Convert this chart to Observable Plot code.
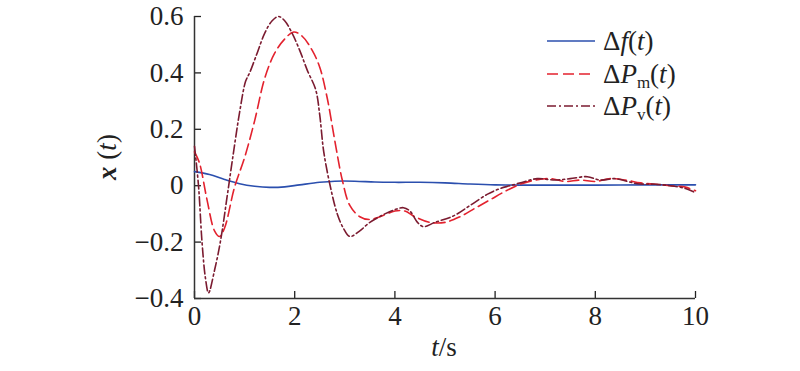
<!DOCTYPE html>
<html><head><meta charset="utf-8">
<script src="https://cdn.jsdelivr.net/npm/d3@7"></script>
<script src="https://cdn.jsdelivr.net/npm/@observablehq/plot@0.6"></script>
</head><body style="margin:0;background:#fff;">
<div id="wrap" style="position:relative;width:800px;height:371px;color:#222;font-family:'Liberation Serif';"></div>
<script>
// Δf(t)
const tF   = [0,0.3,0.6,0.9,1.2,1.5,1.8,2.1,2.5,2.8,3.2,3.6,4.0,4.5,5.0,5.5,6.0,6.5,7,8,9,10];
const fVal = [0.05,0.04,0.022,0.007,-0.002,-0.006,-0.004,0.003,0.012,0.016,0.016,0.013,0.012,0.012,0.01,0.006,0.003,0.002,0.002,0.002,0.003,0.003];
// ΔPm(t)
const tPm  = [0,0.1,0.25,0.4,0.5,0.6,0.8,1.0,1.2,1.4,1.6,1.8,1.98,2.15,2.35,2.5,2.65,2.8,2.95,3.1,3.3,3.5,3.7,4.0,4.2,4.4,4.7,5.0,5.3,5.6,5.9,6.2,6.5,6.8,7.1,7.4,7.7,8.0,8.3,8.6,8.9,9.2,9.5,9.8,10];
const pmVal= [0.12,0.08,-0.05,-0.16,-0.18,-0.15,-0.005,0.1,0.23,0.38,0.47,0.52,0.545,0.53,0.48,0.42,0.31,0.16,0.02,-0.07,-0.11,-0.12,-0.11,-0.09,-0.09,-0.11,-0.13,-0.13,-0.11,-0.08,-0.05,-0.02,0.005,0.02,0.025,0.015,0.02,0.015,0.025,0.02,0.01,0.005,0.0,-0.005,-0.018];
// ΔPv(t)
const tPv  = [0,0.08,0.15,0.22,0.28,0.4,0.52,0.65,0.78,0.9,1.02,1.1,1.25,1.4,1.55,1.68,1.8,1.95,2.1,2.25,2.42,2.5,2.58,2.72,2.85,2.97,3.1,3.3,3.5,3.8,4.0,4.17,4.3,4.45,4.57,4.8,5.17,5.5,5.85,6.1,6.3,6.6,6.84,7.2,7.5,7.84,8.1,8.4,8.84,9.2,9.5,9.8,10];
const pvVal= [0.14,0.0,-0.2,-0.33,-0.38,-0.3,-0.195,-0.04,0.12,0.26,0.37,0.4,0.47,0.54,0.585,0.6,0.585,0.54,0.48,0.41,0.34,0.25,0.12,-0.01,-0.1,-0.15,-0.18,-0.16,-0.13,-0.1,-0.085,-0.078,-0.09,-0.13,-0.145,-0.13,-0.107,-0.07,-0.03,-0.01,0.0,0.015,0.025,0.02,0.025,0.032,0.02,0.025,0.007,0.005,0.0,-0.01,-0.025];
const xTicks = [0,2,4,6,8,10];
const yTicks = [-0.4,-0.2,0,0.2,0.4,0.6];

const cF="#2b4fae", cPm="#e3222e", cPv="#7b1b30";
const FONT="Liberation Serif";
const mk=(ts,vs)=>ts.map((t,i)=>({t,v:vs[i]}));
const fmtY = d => d===0 ? "0" : d3.format(".1f")(d).replace("-","\u2212");

const chart = Plot.plot({
  width:800, height:371,
  marginLeft:194, marginRight:105, marginTop:16, marginBottom:73,
  style:{fontFamily:FONT, fontSize:"27px", color:"#222", background:"#fff"},
  x:{domain:[0,10]},
  y:{domain:[-0.4,0.6]},
  marks:[
    Plot.axisY({ticks:yTicks, tickSize:0, tickPadding:11, tickFormat:fmtY, label:null, fontSize:27}),
    Plot.axisY({ticks:yTicks, tickSize:-7, tickFormat:()=>"", label:null, strokeWidth:1.3}),
    Plot.axisX({ticks:xTicks, tickSize:0, tickPadding:7, label:null, fontSize:27}),
    Plot.axisX({ticks:xTicks, tickSize:-7, tickFormat:()=>"", label:null, strokeWidth:1.3}),
    Plot.ruleX([0],{stroke:"#333", strokeWidth:1.5}),
    Plot.ruleY([-0.4],{stroke:"#333", strokeWidth:1.5}),
    Plot.line(mk(tF,fVal),{x:"t",y:"v",stroke:cF,strokeWidth:1.6,curve:"catmull-rom"}),
    Plot.line(mk(tPm,pmVal),{x:"t",y:"v",stroke:cPm,strokeWidth:1.6,strokeDasharray:"11,5",curve:"catmull-rom"}),
    Plot.line(mk(tPv,pvVal),{x:"t",y:"v",stroke:cPv,strokeWidth:1.6,strokeDasharray:"9,3,2,3",curve:"catmull-rom"})
  ]
});
chart.querySelectorAll("text").forEach(t=>{t.setAttribute("font-family",FONT);t.style.fontFamily=FONT;t.setAttribute("fill","#222");});
chart.querySelectorAll("g[aria-label$='tick label']").forEach(g=>{g.setAttribute("font-family",FONT);g.setAttribute("font-size","27");});
const wrap=document.getElementById("wrap");
chart.style.position="absolute"; chart.style.left="0"; chart.style.top="0";
wrap.appendChild(chart);

function ov(html,x,y,rot){
  const d=document.createElement("div");
  d.innerHTML=html;
  d.style.cssText=`position:absolute;left:${x}px;top:${y}px;white-space:nowrap;font-family:'${FONT}';font-size:27px;line-height:1;transform:translate(-50%,-50%)${rot?" rotate(-90deg)":""};`;
  wrap.appendChild(d);
}
ov('<b><i>x</i></b> (<i>t</i>)',107,157,true);
ov('<i>t</i>/s',444,347,false);

const sub = s => `<span style="font-family:'${FONT}';font-size:17px;position:relative;top:5px;">${s}</span>`;
const items=[
  {c:cF,d:"none",h:'\u0394<i>f</i>(<i>t</i>)',y:41},
  {c:cPm,d:"11,5",h:'\u0394<i>P</i>'+sub("m")+'(<i>t</i>)',y:74},
  {c:cPv,d:"9,3,2,3",h:'\u0394<i>P</i>'+sub("v")+'(<i>t</i>)',y:106}
];
for(const it of items){
  const r=document.createElement("div");
  r.style.cssText=`position:absolute;left:547px;top:${it.y}px;height:28px;display:flex;align-items:center;transform:translateY(-50%);font-family:'${FONT}';`;
  r.innerHTML=`<svg width="50" height="10" viewBox="0 0 50 10" style="margin-right:6px"><line x1="0" y1="5" x2="48" y2="5" stroke="${it.c}" stroke-width="1.6" stroke-dasharray="${it.d}"/></svg><span style="font-family:'${FONT}';font-size:27px;line-height:1;">${it.h}</span>`;
  wrap.appendChild(r);
}
</script>
</body></html>
